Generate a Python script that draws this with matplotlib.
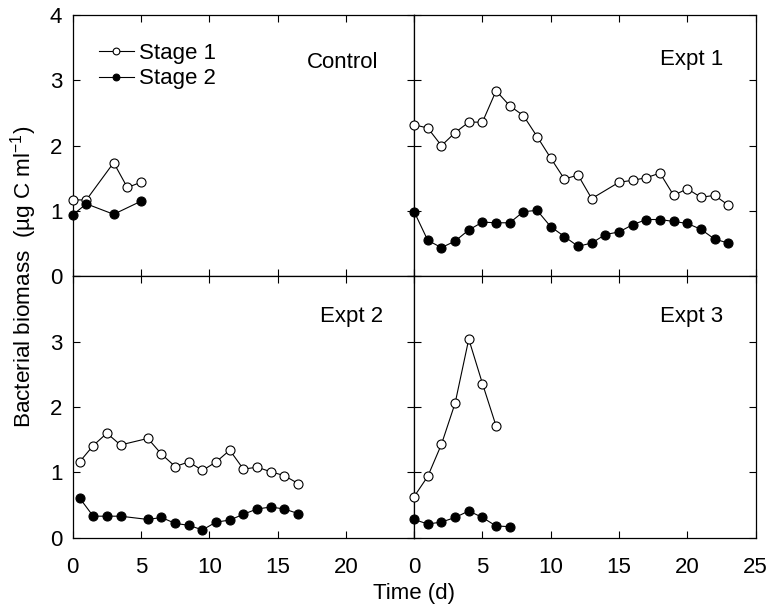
import matplotlib
matplotlib.use("Agg")
from matplotlib import pyplot as plt

plt.rcParams["font.family"] = ["Liberation Sans", "DejaVu Sans"]
plt.rcParams["mathtext.default"] = "regular"

# Control
ctrl_x1 = [0, 1, 3, 4, 5]
ctrl_s1 = [1.17, 1.17, 1.74, 1.36, 1.44]
ctrl_x2 = [0, 1, 3, 5]
ctrl_s2 = [0.94, 1.11, 0.95, 1.15]

# Expt 1
e1_x1 = [0, 1, 2, 3, 4, 5, 6, 7, 8, 9, 10, 11, 12, 13, 15, 16, 17, 18, 19, 20, 21, 22, 23]
e1_s1 = [2.32, 2.27, 2.00, 2.20, 2.36, 2.36, 2.84, 2.61, 2.46, 2.14, 1.81, 1.49, 1.55,
         1.19, 1.44, 1.47, 1.51, 1.58, 1.24, 1.34, 1.21, 1.24, 1.09]
e1_x2 = [0, 1, 2, 3, 4, 5, 6, 7, 8, 9, 10, 11, 12, 13, 14, 15, 16, 17, 18, 19, 20, 21, 22, 23]
e1_s2 = [0.99, 0.55, 0.44, 0.54, 0.71, 0.83, 0.82, 0.82, 0.99, 1.01, 0.76, 0.61, 0.46,
         0.51, 0.64, 0.68, 0.79, 0.87, 0.87, 0.84, 0.81, 0.72, 0.57, 0.51]

# Expt 2
e2_x = [0.5, 1.5, 2.5, 3.5, 5.5, 6.5, 7.5, 8.5, 9.5, 10.5, 11.5, 12.5, 13.5, 14.5, 15.5, 16.5]
e2_s1 = [1.16, 1.41, 1.60, 1.42, 1.52, 1.28, 1.09, 1.16, 1.03, 1.16, 1.34, 1.05, 1.08,
         1.01, 0.95, 0.83]
e2_s2 = [0.61, 0.33, 0.33, 0.33, 0.28, 0.31, 0.22, 0.19, 0.12, 0.24, 0.27, 0.36, 0.44,
         0.47, 0.44, 0.37]

# Expt 3
e3_x1 = [0, 1, 2, 3, 4, 5, 6]
e3_s1 = [0.63, 0.94, 1.43, 2.06, 3.04, 2.36, 1.71]
e3_x2 = [0, 1, 2, 3, 4, 5, 6, 7]
e3_s2 = [0.28, 0.21, 0.24, 0.31, 0.41, 0.31, 0.18, 0.17]

panels = [
    ("Control", ctrl_x1, ctrl_s1, ctrl_x2, ctrl_s2),
    ("Expt 1", e1_x1, e1_s1, e1_x2, e1_s2),
    ("Expt 2", e2_x, e2_s1, e2_x, e2_s2),
    ("Expt 3", e3_x1, e3_s1, e3_x2, e3_s2),
]
# where the panel names sit (axes fraction, right edge / centre)
name_pos = [(0.894, 0.82), (0.904, 0.83), (0.909, 0.847), (0.904, 0.847)]

fig, axes = plt.subplots(2, 2, figsize=(7.71, 6.09), dpi=100)
fig.subplots_adjust(left=0.0943, right=0.980, top=0.9754, bottom=0.117,
                    hspace=0, wspace=0)

fs = 16
for i, (ax, (name, x1, y1, x2, y2)) in enumerate(zip(axes.flat, panels)):
    ax.plot(x1, y1, color="black", lw=0.8, marker="o", ms=6.5,
            mfc="white", mec="black", mew=0.8, label="Stage 1", clip_on=False, zorder=3)
    ax.plot(x2, y2, color="black", lw=0.8, marker="o", ms=6.5,
            mfc="black", mec="black", mew=0.8, label="Stage 2", clip_on=False, zorder=3)
    ax.set_xlim(0, 25)
    ax.set_ylim(0, 4)
    ax.set_xticks([0, 5, 10, 15, 20, 25])
    ax.set_yticks([0, 1, 2, 3, 4])
    ax.tick_params(direction="in", length=5, width=0.8, top=True, right=True,
                   labelsize=fs)
    ax.tick_params(axis="x", pad=14)
    ax.tick_params(axis="y", pad=7.5)
    for s in ax.spines.values():
        s.set_linewidth(0.9)
    tx, ty = name_pos[i]
    ax.text(tx, ty, name, transform=ax.transAxes, ha="right", va="center",
            fontsize=fs)

    row, col = divmod(i, 2)
    if row == 0:
        ax.set_xticklabels([])
    elif col == 0:
        ax.set_xticklabels(["0", "5", "10", "15", "20", ""])
    if col == 1:
        ax.set_yticklabels([])
    elif row == 1:
        ax.set_yticklabels(["0", "1", "2", "3", ""])

axes[0, 0].legend(loc="upper left", bbox_to_anchor=(0.05, 0.927), frameon=False,
                  fontsize=fs, handlelength=1.6, handletextpad=0.2,
                  labelspacing=0.2, borderaxespad=0, markerscale=0.75)

fig.text(0.030, 0.5447, "Bacterial biomass  (µg C ml$^{-1}$)", rotation=90,
         ha="center", va="center", fontsize=16.2)
fig.text(0.5374, 0.025, "Time (d)", ha="center", va="center", fontsize=fs)

fig.savefig("out.png", dpi=100)
